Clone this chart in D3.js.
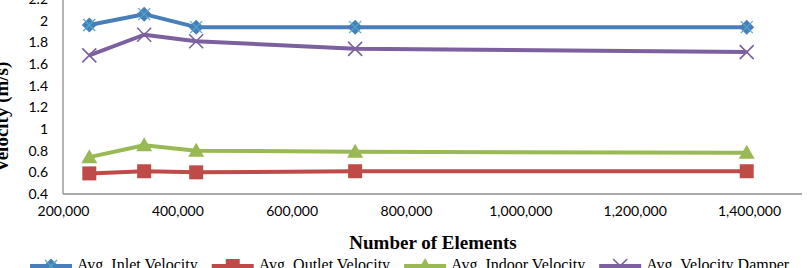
<!DOCTYPE html>
<html>
<head>
<meta charset="utf-8">
<script src="https://cdn.jsdelivr.net/npm/d3@7"></script>
<style>
  body { margin: 0; background: #fff; }
  svg { display: block; }
</style>
</head>
<body>
<div id="chart"></div>
<script>
// Mesh sizes (x) and averaged velocities (m/s).
const elements = [246000, 342000, 433000, 711000, 1396000];
const inletVelocity = [1.96, 2.06, 1.94, 1.94, 1.94];
const outletVelocity = [0.59, 0.61, 0.60, 0.61, 0.61];
const indoorVelocity = [0.74, 0.85, 0.80, 0.79, 0.78];
const damperVelocity = [1.68, 1.87, 1.81, 1.74, 1.71];

const xTicks = [200000, 400000, 600000, 800000, 1000000, 1200000, 1400000];
const yTicks = [0.4, 0.6, 0.8, 1, 1.2, 1.4, 1.6, 1.8, 2, 2.2];

const seriesNames = ["Avg. Inlet Velocity", "Avg. Outlet Velocity", "Avg. Indoor Velocity", "Avg. Velocity Damper"];

function drawChart() {
  const W = 807, H = 268;

  const series = [
    { name: seriesNames[0], values: inletVelocity, color: "#4A7EBB", marker: "diamond" },
    { name: seriesNames[1], values: outletVelocity, color: "#BE4B48", marker: "square" },
    { name: seriesNames[2], values: indoorVelocity, color: "#98B954", marker: "triangle" },
    { name: seriesNames[3], values: damperVelocity, color: "#7D60A0", marker: "cross" }
  ];

  const x = d3.scaleLinear().domain([200000, 1400000]).range([63, 749]);
  const y = d3.scaleLinear().domain([0.4, 2.2]).range([194, -1]);

  const svg = d3.select("#chart").append("svg")
    .attr("width", W)
    .attr("height", H);

  const tickFont = "Lato, 'Open Sans', sans-serif";
  const titleFont = "'Liberation Serif', 'Times New Roman', serif";

  // Y axis: plain grey line with right-aligned labels, no tick marks.
  const yAxis = svg.append("g")
    .attr("transform", `translate(${x.range()[0]},0)`)
    .call(d3.axisLeft(y).tickValues(yTicks).tickSize(0).tickPadding(15)
      .tickFormat(d => d3.format("")(+d.toFixed(1))));
  yAxis.select(".domain").remove();
  yAxis.selectAll("text")
    .attr("font-family", tickFont)
    .attr("font-size", 14)
    .attr("fill", "#000");
  svg.append("line")
    .attr("x1", x.range()[0]).attr("x2", x.range()[0])
    .attr("y1", 0).attr("y2", y(0.4))
    .attr("stroke", "#8c8c8c").attr("stroke-width", 1.3);

  // X axis.
  const xAxis = svg.append("g")
    .attr("transform", `translate(0,${y(0.4)})`)
    .call(d3.axisBottom(x).tickValues(xTicks).tickSize(0).tickPadding(12)
      .tickFormat(d3.format(",")));
  xAxis.select(".domain").remove();
  xAxis.selectAll("text")
    .attr("font-family", tickFont)
    .attr("font-size", 14)
    .attr("fill", "#000");
  svg.append("line")
    .attr("x1", x.range()[0]).attr("x2", W - 5)
    .attr("y1", y(0.4)).attr("y2", y(0.4))
    .attr("stroke", "#8c8c8c").attr("stroke-width", 1.3);

  // Axis titles.
  svg.append("text")
    .attr("transform", "translate(8,117) rotate(-90)")
    .attr("text-anchor", "middle")
    .attr("font-family", titleFont)
    .attr("font-weight", "bold")
    .attr("font-size", 19)
    .text("Velocity (m/s)");

  svg.append("text")
    .attr("x", 433).attr("y", 249)
    .attr("text-anchor", "middle")
    .attr("font-family", titleFont)
    .attr("font-weight", "bold")
    .attr("font-size", 19)
    .text("Number of Elements");

  // Marker drawing helper.
  function drawMarker(g, type, color, cx, cy) {
    if (type === "diamond") {
      const r = 7.5;
      g.append("path")
        .attr("d", `M${cx},${cy - r}L${cx + r},${cy}L${cx},${cy + r}L${cx - r},${cy}Z`)
        .attr("fill", color);
      const c = 6;
      g.append("path")
        .attr("d", `M${cx - c},${cy - c}L${cx + c},${cy + c}M${cx - c},${cy + c}L${cx + c},${cy - c}`)
        .attr("stroke", "#4BACC6").attr("stroke-width", 1.2).attr("fill", "none");
    } else if (type === "square") {
      const s = 7;
      g.append("rect")
        .attr("x", cx - s).attr("y", cy - s)
        .attr("width", 2 * s).attr("height", 2 * s)
        .attr("fill", color);
    } else if (type === "triangle") {
      g.append("path")
        .attr("d", `M${cx},${cy - 8}L${cx + 8},${cy + 6}L${cx - 8},${cy + 6}Z`)
        .attr("fill", color);
    } else {
      const c = 7;
      g.append("path")
        .attr("d", `M${cx - c},${cy - c}L${cx + c},${cy + c}M${cx - c},${cy + c}L${cx + c},${cy - c}`)
        .attr("stroke", color).attr("stroke-width", 1.6).attr("fill", "none");
    }
  }

  const line = d3.line()
    .x((d, i) => x(elements[i]))
    .y(d => y(d));

  // Draw series in Excel order so later series sit on top.
  series.forEach(s => {
    const g = svg.append("g");
    g.append("path")
      .attr("d", line(s.values))
      .attr("fill", "none")
      .attr("stroke", s.color)
      .attr("stroke-width", 4)
      .attr("stroke-linejoin", "round");
    s.values.forEach((v, i) => drawMarker(g, s.marker, s.color, x(elements[i]), y(v)));
  });

  // Legend (cut off by the bottom edge like in the original).
  const legendY = 266;
  let lx = 30;
  series.forEach(s => {
    const g = svg.append("g");
    g.append("line")
      .attr("x1", lx).attr("x2", lx + 42)
      .attr("y1", legendY).attr("y2", legendY)
      .attr("stroke", s.color).attr("stroke-width", 4);
    drawMarker(g, s.marker, s.color, lx + 21, legendY);
    const t = g.append("text")
      .attr("x", lx + 47).attr("y", legendY + 4)
      .attr("font-family", titleFont)
      .attr("font-size", 16)
      .text(s.name);
    lx += 47 + t.node().getComputedTextLength() + 14;
  });
}

drawChart();
</script>
</body>
</html>
